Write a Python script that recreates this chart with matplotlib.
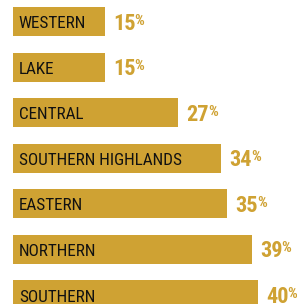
import matplotlib
matplotlib.use("Agg")
import matplotlib.pyplot as plt

regions = ["WESTERN", "LAKE", "CENTRAL", "SOUTHERN HIGHLANDS", "EASTERN", "NORTHERN", "SOUTHERN"]
values = [15, 15, 27, 34, 35, 39, 40]

gold = "#CFA233"
fam = ["Roboto Condensed", "Barlow Condensed", "Archivo Narrow", "DejaVu Sans"]

fig = plt.figure(figsize=(2.97, 3.04), dpi=100)
ax = fig.add_axes([0, 0, 1, 1])
ax.barh(range(len(regions)), values, height=0.64, color=gold, left=0)
ax.set_xlim(-13 / 6.12, (297 - 13) / 6.12)
ax.set_ylim(6 + 9 / 45.5, -21.5 / 45.5)
ax.axis("off")

nums = []
for i, (r, v) in enumerate(zip(regions, values)):
    ax.text(0.95, i + 0.143, r, va="baseline", ha="left", fontsize=12.3, family=fam,
            color="#111111")
    t = ax.text(v + 1.35, i + 0.176, str(v), va="baseline", ha="left", fontsize=16,
                family=fam, fontweight="bold", color=gold)
    nums.append(t)

fig.canvas.draw()
renderer = fig.canvas.get_renderer()
for t in nums:
    bb = t.get_window_extent(renderer)
    x_px = bb.x1 - 1
    y_px = ax.transData.transform(t.get_position())[1]
    ax.annotate("%", xy=(x_px, y_px), xycoords="figure pixels",
                xytext=(0, 5), textcoords="offset pixels", va="baseline", ha="left",
                fontsize=11, family=fam, fontweight="bold", color=gold)

fig.savefig("out.png", dpi=100)
